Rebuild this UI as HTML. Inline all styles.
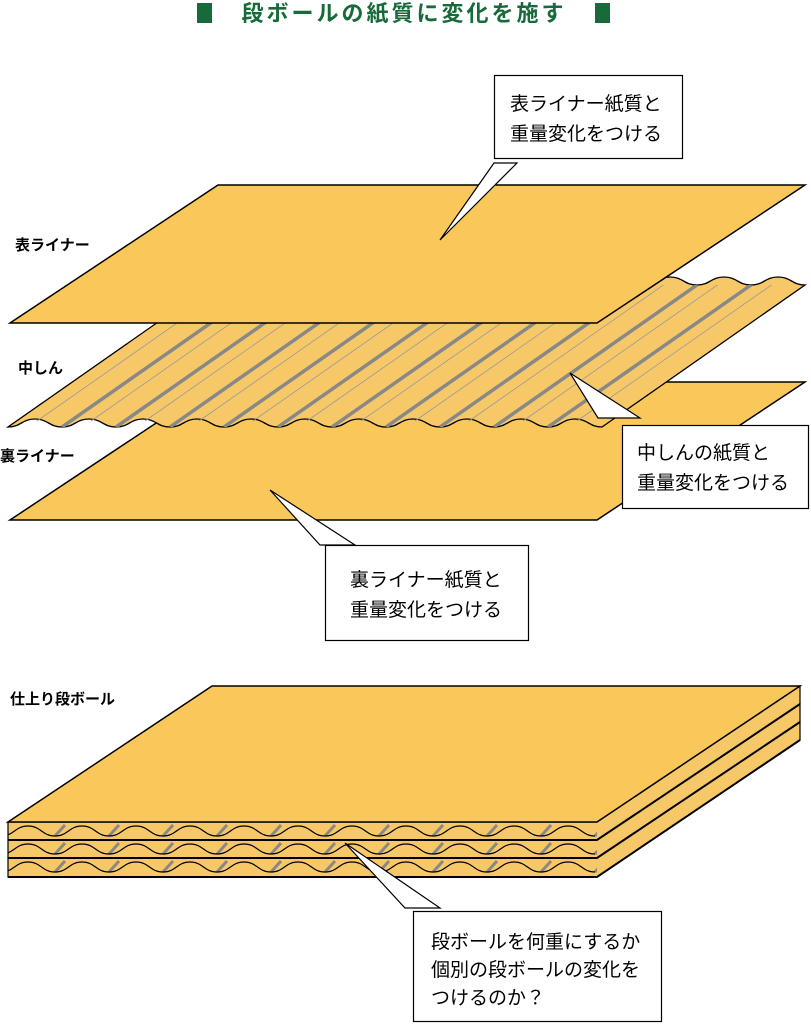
<!DOCTYPE html>
<html><head><meta charset="utf-8"><style>
html,body{margin:0;padding:0;background:#fff;}
svg{display:block;}
text{font-family:"Liberation Sans","Noto Sans CJK JP",sans-serif;}
</style></head><body>
<svg width="811" height="1024" viewBox="0 0 811 1024" xmlns="http://www.w3.org/2000/svg">
<defs>
<clipPath id="med"><path d="M8,427 L602,427 L805,285 L211,285 Z"/></clipPath>
<clipPath id="stk"><rect x="8" y="800" width="589" height="90"/></clipPath>
</defs>
<!-- title -->
<rect x="197" y="3" width="15" height="20" fill="#176b3a"/>
<rect x="595" y="3" width="15" height="20" fill="#176b3a"/>
<text x="404" y="21" text-anchor="middle" font-size="22" font-weight="bold" fill="#176b3a" letter-spacing="3">段ボールの紙質に変化を施す</text>

<!-- bottom liner -->
<polygon points="10,520 218,382 805,382 597,520" fill="#f9c75a" stroke="#000" stroke-width="1.5"/>

<!-- medium -->
<path d="M8,427 c13,0 14,-8 27,-8 s14,8 27,8 s14,-8 27,-8 s14,8 27,8 s14,-8 27,-8 s14,8 27,8 s14,-8 27,-8 s14,8 27,8 s14,-8 27,-8 s14,8 27,8 s14,-8 27,-8 s14,8 27,8 s14,-8 27,-8 s14,8 27,8 s14,-8 27,-8 s14,8 27,8 s14,-8 27,-8 s14,8 27,8 s14,-8 27,-8 s14,8 27,8 s14,-8 27,-8 s14,8 27,8 L805,285 c-13,0 -14,-8 -27,-8 s-14,8 -27,8 s-14,-8 -27,-8 s-14,8 -27,8 s-14,-8 -27,-8 s-14,8 -27,8 s-14,-8 -27,-8 s-14,8 -27,8 s-14,-8 -27,-8 s-14,8 -27,8 s-14,-8 -27,-8 s-14,8 -27,8 s-14,-8 -27,-8 s-14,8 -27,8 s-14,-8 -27,-8 s-14,8 -27,8 s-14,-8 -27,-8 s-14,8 -27,8 s-14,-8 -27,-8 s-14,8 -27,8 s-14,-8 -27,-8 s-14,8 -27,8 Z" fill="#f7c868" stroke="#000" stroke-width="1.3"/>
<g clip-path="url(#med)">
<path d="M62,427 l203,-142 M116,427 l203,-142 M170,427 l203,-142 M224,427 l203,-142 M278,427 l203,-142 M332,427 l203,-142 M386,427 l203,-142 M440,427 l203,-142 M494,427 l203,-142 M548,427 l203,-142" stroke="#888" stroke-width="3.5" fill="none"/>
<path d="M37,421 l203,-142 M91,421 l203,-142 M145,421 l203,-142 M199,421 l203,-142 M253,421 l203,-142 M307,421 l203,-142 M361,421 l203,-142 M415,421 l203,-142 M469,421 l203,-142 M523,421 l203,-142 M577,421 l203,-142" stroke="#999" stroke-width="0.8" fill="none"/>
</g>

<!-- top liner -->
<polygon points="10,323 218,185 805,185 597,323" fill="#f9c75a" stroke="#000" stroke-width="1.5"/>

<!-- labels -->
<text x="15" y="250" font-size="15" font-weight="bold">表ライナー</text>
<text x="18" y="373" font-size="15" font-weight="bold">中しん</text>
<text x="0" y="461" font-size="15" font-weight="bold">裏ライナー</text>
<text x="10" y="704" font-size="15" font-weight="bold">仕上り段ボール</text>

<!-- callout 1 -->
<rect x="494.5" y="75.5" width="188" height="83" fill="#fff" stroke="#000" stroke-width="1.2"/>
<polygon points="494,163 517,163 440,240" fill="#fff" stroke="#000" stroke-width="1.2"/>
<text x="510" y="110" font-size="19">表ライナー紙質と</text>
<text x="510" y="140" font-size="19">重量変化をつける</text>

<!-- callout 2 -->
<polygon points="598,418 640,418 570,373" fill="#fff" stroke="#000" stroke-width="1.2"/>
<rect x="622.5" y="425.5" width="186" height="83" fill="#fff" stroke="#000" stroke-width="1.2"/>
<text x="637" y="459" font-size="19">中しんの紙質と</text>
<text x="637" y="489" font-size="19">重量変化をつける</text>

<!-- callout 3 -->
<polygon points="320,545 355,545 270,490" fill="#fff" stroke="#000" stroke-width="1.2"/>
<rect x="325.5" y="545.5" width="203" height="95" fill="#fff" stroke="#000" stroke-width="1.2"/>
<text x="350" y="586" font-size="19">裏ライナー紙質と</text>
<text x="350" y="616" font-size="19">重量変化をつける</text>

<!-- stack -->
<g stroke="#000" stroke-width="1.2">
<polygon points="8,858 597,858 800,722 800,740 597,877 8,877" fill="#f7c868"/>
<polygon points="8,840 597,840 800,704 800,722 597,858 8,858" fill="#f7c868"/>
<polygon points="8,822 597,822 800,686 800,704 597,840 8,840" fill="#f7c868"/>
</g>
<g clip-path="url(#stk)">
<g stroke="#888" stroke-width="3" fill="none">
<path d="M55,836 l10,-11 M109,836 l10,-11 M163,836 l10,-11 M217,836 l10,-11 M271,836 l10,-11 M325,836 l10,-11 M379,836 l10,-11 M433,836 l10,-11 M487,836 l10,-11 M541,836 l10,-11 M595,836 l10,-11"/>
<path d="M55,854 l10,-11 M109,854 l10,-11 M163,854 l10,-11 M217,854 l10,-11 M271,854 l10,-11 M325,854 l10,-11 M379,854 l10,-11 M433,854 l10,-11 M487,854 l10,-11 M541,854 l10,-11 M595,854 l10,-11"/>
<path d="M55,872 l10,-11 M109,872 l10,-11 M163,872 l10,-11 M217,872 l10,-11 M271,872 l10,-11 M325,872 l10,-11 M379,872 l10,-11 M433,872 l10,-11 M487,872 l10,-11 M541,872 l10,-11 M595,872 l10,-11"/>
</g>
<g stroke="#000" stroke-width="1.2" fill="none">
<path d="M1,836 c13,0 14,-10 27,-10 s14,10 27,10 s14,-10 27,-10 s14,10 27,10 s14,-10 27,-10 s14,10 27,10 s14,-10 27,-10 s14,10 27,10 s14,-10 27,-10 s14,10 27,10 s14,-10 27,-10 s14,10 27,10 s14,-10 27,-10 s14,10 27,10 s14,-10 27,-10 s14,10 27,10 s14,-10 27,-10 s14,10 27,10 s14,-10 27,-10 s14,10 27,10 s14,-10 27,-10 s14,10 27,10"/>
<path d="M1,854 c13,0 14,-10 27,-10 s14,10 27,10 s14,-10 27,-10 s14,10 27,10 s14,-10 27,-10 s14,10 27,10 s14,-10 27,-10 s14,10 27,10 s14,-10 27,-10 s14,10 27,10 s14,-10 27,-10 s14,10 27,10 s14,-10 27,-10 s14,10 27,10 s14,-10 27,-10 s14,10 27,10 s14,-10 27,-10 s14,10 27,10 s14,-10 27,-10 s14,10 27,10 s14,-10 27,-10 s14,10 27,10"/>
<path d="M1,872 c13,0 14,-10 27,-10 s14,10 27,10 s14,-10 27,-10 s14,10 27,10 s14,-10 27,-10 s14,10 27,10 s14,-10 27,-10 s14,10 27,10 s14,-10 27,-10 s14,10 27,10 s14,-10 27,-10 s14,10 27,10 s14,-10 27,-10 s14,10 27,10 s14,-10 27,-10 s14,10 27,10 s14,-10 27,-10 s14,10 27,10 s14,-10 27,-10 s14,10 27,10 s14,-10 27,-10 s14,10 27,10"/>
</g>
</g>
<g stroke="#000" stroke-width="2" fill="none">
<path d="M8,840 L597,840 L800,704 M8,858 L597,858 L800,722 M8,877 L597,877 L800,740"/>
</g>
<polygon points="8,822 212,686 800,686 597,822" fill="#f9c75a" stroke="#000" stroke-width="1.5"/>

<!-- callout 4 -->
<polygon points="405,908 440,908 345,843" fill="#fff" stroke="#000" stroke-width="1.2"/>
<rect x="413.5" y="911.5" width="248" height="110" fill="#fff" stroke="#000" stroke-width="1.2"/>
<text x="431" y="948" font-size="19">段ボールを何重にするか</text>
<text x="431" y="976" font-size="19">個別の段ボールの変化を</text>
<text x="431" y="1004" font-size="19">つけるのか？</text>
</svg>
</body></html>
